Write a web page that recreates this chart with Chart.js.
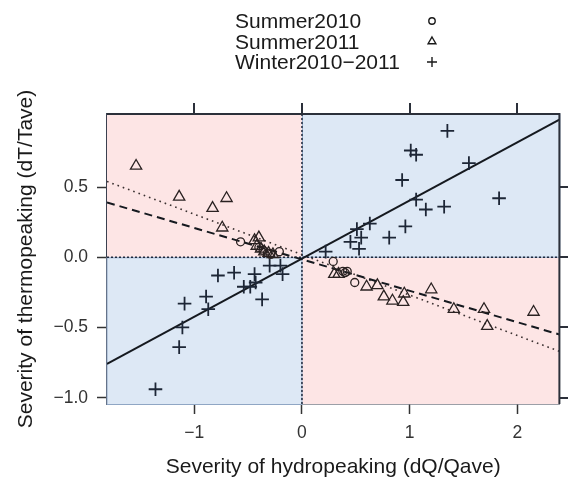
<!DOCTYPE html>
<html>
<head>
<meta charset="utf-8">
<title>Thermopeaking vs hydropeaking</title>
<script src="https://cdn.jsdelivr.net/npm/chart.js@4.4.1/dist/chart.umd.min.js"></script>
<style>
  html, body { margin: 0; padding: 0; background: #fff; }
  #wrap { width: 568px; height: 480px; }
</style>
</head>
<body>
<div id="wrap"><canvas id="myChart" width="568" height="480"></canvas></div>
<script>
// [dQ/Qave, dT/Tave] per event
var summer2010 = [
  [-0.57, 0.11], [-0.40, 0.07], [-0.36, 0.05], [-0.32, 0.03], [-0.29, 0.02],
  [-0.21, 0.04], [0.29, -0.03], [0.38, -0.10], [0.40, -0.11], [0.42, -0.10],
  [0.49, -0.18]
];
var summer2011 = [
  [-1.54, 0.65], [-1.14, 0.43], [-0.83, 0.35], [-0.70, 0.42], [-0.74, 0.21],
  [-0.44, 0.12], [-0.40, 0.14], [-0.42, 0.08], [-0.38, 0.06], [-0.35, 0.04],
  [-0.31, 0.03], [-0.27, 0.02],
  [0.30, -0.12], [0.34, -0.12], [0.60, -0.21], [0.70, -0.20], [0.76, -0.28],
  [0.84, -0.31], [0.94, -0.32], [0.95, -0.26], [1.20, -0.23], [1.41, -0.37],
  [1.69, -0.37], [1.72, -0.49], [2.15, -0.39]
];
var winter2010_2011 = [
  [1.35, 0.90], [1.01, 0.76], [1.06, 0.73], [1.55, 0.67], [0.93, 0.55],
  [1.83, 0.42], [1.06, 0.41], [1.15, 0.34], [1.32, 0.36], [0.63, 0.24],
  [0.96, 0.22], [0.51, 0.20], [0.55, 0.14], [0.45, 0.11], [0.53, 0.06],
  [0.81, 0.14], [0.22, 0.04],
  [-0.30, -0.06], [-0.20, -0.06], [-0.18, -0.12], [-0.44, -0.12], [-0.63, -0.11],
  [-0.78, -0.13], [-0.43, -0.18], [-0.54, -0.21], [-0.48, -0.21], [-0.37, -0.30],
  [-0.89, -0.28], [-1.09, -0.33], [-0.87, -0.37], [-1.11, -0.50], [-1.14, -0.64],
  [-1.36, -0.94]
];

// fitted trend lines, endpoints at the panel edges
var trendWinter = [[-1.81, -0.76], [2.39, 0.98]];
var trendSummer2010 = [[-1.81, 0.39], [2.39, -0.55]];
var trendSummer2011 = [[-1.81, 0.54], [2.39, -0.67]];

var seriesNames = ['Summer2010', 'Summer2011', 'Winter2010\u22122011'];
var xTicks = [-1, 0, 1, 2];
var yTicks = [-1, -0.5, 0, 0.5];
var xRange = [-1.81, 2.39];
var yRange = [-1.045, 1.02];

function pts(arr) {
  return arr.map(function (p) { return { x: p[0], y: p[1] }; });
}
function minus(s) {
  return s.replace('-', '\u2212');
}

var FONT = '"Liberation Sans", Arial, Helvetica, sans-serif';
var INK = '#2a2222';
var FRAME = '#3b4150';

// shaded quadrants and the dotted zero lines
var quadrants = {
  id: 'quadrants',
  beforeDatasetsDraw: function (chart) {
    var a = chart.chartArea, ctx = chart.ctx;
    var x0 = chart.scales.x.getPixelForValue(0);
    var y0 = chart.scales.y.getPixelForValue(0);
    var pink = '#fde5e5', blue = '#dde8f5';
    ctx.save();
    ctx.fillStyle = pink;
    ctx.fillRect(a.left, a.top, x0 - a.left, y0 - a.top);
    ctx.fillRect(x0, y0, a.right - x0, a.bottom - y0);
    ctx.fillStyle = blue;
    ctx.fillRect(x0, a.top, a.right - x0, y0 - a.top);
    ctx.fillRect(a.left, y0, x0 - a.left, a.bottom - y0);
    ctx.strokeStyle = '#8fa6c4';
    ctx.lineWidth = 1;
    ctx.strokeRect(x0 + 0.5, a.top, a.right - x0, y0 - a.top);
    ctx.strokeRect(a.left, y0 + 0.5, x0 - a.left, a.bottom - y0);
    ctx.strokeStyle = '#1f2a3d';
    ctx.lineWidth = 1.5;
    ctx.setLineDash([2, 2]);
    ctx.beginPath();
    ctx.moveTo(a.left, y0); ctx.lineTo(a.right, y0);
    ctx.moveTo(x0, a.top); ctx.lineTo(x0, a.bottom);
    ctx.stroke();
    ctx.restore();
  }
};

// top and right edges of the box, with unlabeled ticks
var outerTicks = {
  id: 'outerTicks',
  afterDraw: function (chart) {
    var a = chart.chartArea, ctx = chart.ctx;
    var sx = chart.scales.x, sy = chart.scales.y;
    ctx.save();
    ctx.setLineDash([]);
    ctx.strokeStyle = '#2b303a';
    ctx.lineWidth = 2;
    ctx.beginPath();
    ctx.moveTo(a.left, a.top); ctx.lineTo(a.right, a.top); ctx.lineTo(a.right, a.bottom);
    xTicks.forEach(function (v) {
      var px = Math.round(sx.getPixelForValue(v));
      ctx.moveTo(px, a.top - 11); ctx.lineTo(px, a.top);
    });
    yTicks.forEach(function (v) {
      var py = Math.round(sy.getPixelForValue(v));
      ctx.moveTo(a.right, py); ctx.lineTo(a.right + 11, py);
    });
    ctx.stroke();
    ctx.restore();
  }
};

// key above the panel: names on the left, open symbols in a column to the right
var keyBlock = {
  id: 'keyBlock',
  afterDraw: function (chart) {
    var ctx = chart.ctx;
    var styles = ['circle', 'triangle', 'cross'];
    var sizes = [3.2, 4.5, 5];
    ctx.save();
    ctx.textBaseline = 'alphabetic';
    for (var i = 0; i < seriesNames.length; i++) {
      var base = 28 + i * 20.5;
      ctx.font = '21px ' + FONT;
      ctx.fillStyle = '#1a1a1a';
      ctx.fillText(seriesNames[i], 235, base);
      ctx.fillStyle = 'rgba(0,0,0,0)';
      ctx.strokeStyle = '#1a1a1a';
      ctx.lineWidth = 1.4;
      Chart.helpers.drawPoint(ctx, { pointStyle: styles[i], radius: sizes[i], rotation: 0, borderWidth: 1.4 }, 432, base - 7);
    }
    ctx.restore();
  }
};

function axis(pos, range, ticks, fmt, size) {
  return {
    type: 'linear',
    position: pos,
    min: range[0],
    max: range[1],
    afterBuildTicks: function (s) {
      s.ticks = ticks.map(function (v) { return { value: v }; });
    },
    afterFit: function (s) {
      if (pos === 'bottom') s.height = size; else s.width = size;
    },
    grid: {
      drawOnChartArea: false,
      drawTicks: true,
      tickLength: 10,
      tickWidth: 1.5,
      tickColor: '#333'
    },
    border: { display: true, color: FRAME, width: 1.5 },
    ticks: {
      padding: 9,
      color: '#333',
      font: { family: FONT, size: 17.5 },
      callback: fmt
    }
  };
}

function fmtX(v) { return minus(String(v)); }
function fmtY(v) { return minus(v.toFixed(1)); }

var ctx = document.getElementById('myChart').getContext('2d');
var myChart = new Chart(ctx, {
  type: 'scatter',
  data: {
    datasets: [
      {
        label: seriesNames[0],
        data: pts(summer2010),
        pointStyle: 'circle',
        pointRadius: 4,
        borderColor: INK,
        backgroundColor: 'rgba(0,0,0,0)',
        borderWidth: 1.3
      },
      {
        label: seriesNames[1],
        data: pts(summer2011),
        pointStyle: 'triangle',
        pointRadius: 6.5,
        borderColor: INK,
        backgroundColor: 'rgba(0,0,0,0)',
        borderWidth: 1.3
      },
      {
        label: seriesNames[2],
        data: pts(winter2010_2011),
        pointStyle: 'cross',
        pointRadius: 6.8,
        borderColor: '#1d2636',
        backgroundColor: 'rgba(0,0,0,0)',
        borderWidth: 1.8
      },
      {
        data: pts(trendWinter),
        showLine: true,
        pointRadius: 0,
        borderColor: '#15191f',
        borderWidth: 2
      },
      {
        data: pts(trendSummer2010),
        showLine: true,
        pointRadius: 0,
        borderColor: '#15191f',
        borderWidth: 2,
        borderDash: [8, 5]
      },
      {
        data: pts(trendSummer2011),
        showLine: true,
        pointRadius: 0,
        borderColor: '#3a3030',
        borderWidth: 1.6,
        borderDash: [1.6, 4]
      }
    ]
  },
  options: {
    responsive: false,
    devicePixelRatio: 1,
    animation: false,
    events: [],
    layout: { padding: { top: 114, right: 6, left: 0, bottom: 0 } },
    plugins: {
      legend: { display: false },
      tooltip: { enabled: false }
    },
    scales: {
      x: Object.assign(axis('bottom', xRange, xTicks, fmtX, 76), {
        title: {
          display: true,
          text: 'Severity of hydropeaking (dQ/Qave)',
          color: '#1a1a1a',
          font: { family: FONT, size: 21 },
          padding: { top: 0, bottom: 0 }
        }
      }),
      y: Object.assign(axis('left', yRange, yTicks, fmtY, 107), {
        title: {
          display: true,
          text: 'Severity of thermopeaking (dT/Tave)',
          color: '#1a1a1a',
          font: { family: FONT, size: 21 },
          padding: { top: 14, bottom: 0 }
        }
      })
    }
  },
  plugins: [quadrants, outerTicks, keyBlock]
});
</script>
</body>
</html>
